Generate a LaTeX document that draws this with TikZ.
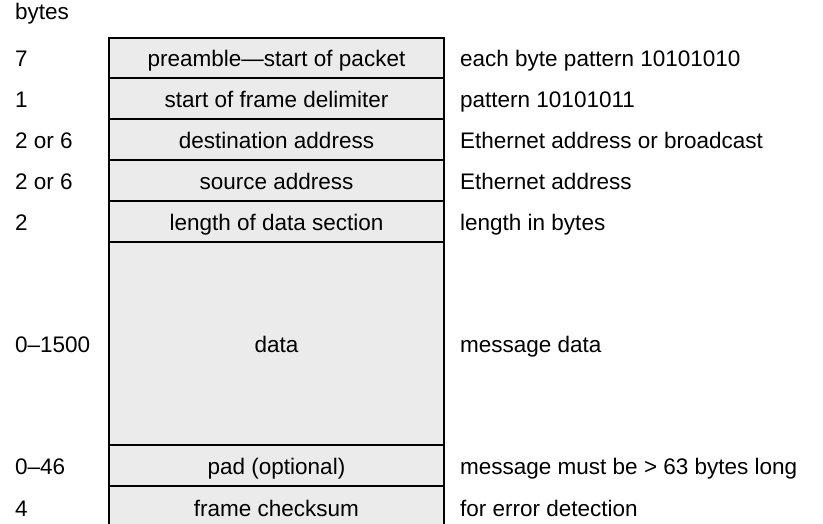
\documentclass[tikz,border=0pt]{standalone}
\usepackage{fontspec}
\setmainfont{Liberation Sans}
\usetikzlibrary{positioning}

\begin{document}
\begin{tikzpicture}[x={(1pt,0)},y={(0,-1pt)},
  every node/.style={font=\fontsize{22.5}{25}\selectfont, text height=20pt, text depth=2pt},
  field/.style={draw, line width=1.2pt, fill=black!8, inner sep=0pt, minimum width=335pt},
  count/.style={anchor=west, inner sep=0pt},
  descr/.style={anchor=west, inner sep=0pt}]
\useasboundingbox (0,0) rectangle (823,524);
\node[count] (bytes) at (15,11) {bytes};
\foreach \n/\t/\b/\f/\l/\d in {
  pre/38/78/preamble—start of packet/7/each byte pattern 10101010,
  sfd/78/119/start of frame delimiter/1/pattern 10101011,
  dst/119/160/destination address/2 or 6/Ethernet address or broadcast,
  src/160/201/source address/2 or 6/Ethernet address,
  len/201/242/length of data section/2/length in bytes,
  dat/242/445/data/0–1500/message data,
  pad/445/486/pad (optional)/0–46/message must be > 63 bytes long,
  crc/486/528/frame checksum/4/for error detection} {
  \pgfmathsetmacro\h{\b-\t}
  \node[field, minimum height=\h pt] (\n) at (276.5,{(\t+\b)/2}) {\f};
  \node[count] (\n-n) at (15,{(\t+\b)/2}) {\l};
  \node[descr] (\n-d) at (460,{(\t+\b)/2}) {\d};
}
\end{tikzpicture}
\end{document}
